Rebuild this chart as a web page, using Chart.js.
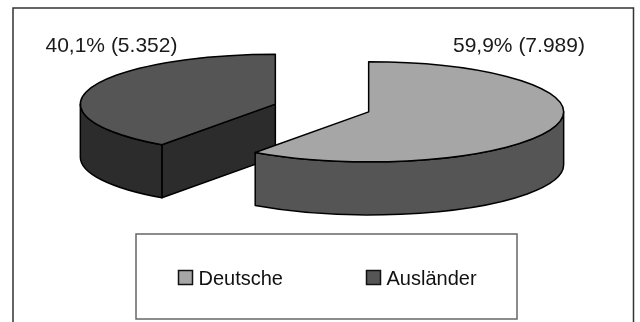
<!DOCTYPE html>
<html>
<head>
<meta charset="utf-8">
<title>Deutsche und Ausländer</title>
<script src="https://cdn.jsdelivr.net/npm/chart.js@4"></script>
<style>
  html, body { margin: 0; padding: 0; background: #fff; }
  #chart { display: block; }
</style>
</head>
<body>
<div style="width:640px;height:322px"><canvas id="chart" width="640" height="322"></canvas></div>
<script>
const categories = ['Deutsche', 'Ausländer'];
const persons = [7989, 5352];
const topColors = ['#a6a6a6', '#555555'];
const sideColors = ['#555555', '#2c2c2c'];

const TILT = 50 / 195;   // vertical squash of the pie
const DEPTH = 53;        // height of the extruded rim
const FONT = '"Liberation Sans", Arial, sans-serif';

const total = persons.reduce((a, b) => a + b, 0);
const valueText = (v) => (v / total * 100).toFixed(1).replace('.', ',') + '% (' + v.toLocaleString('de-DE') + ')';

// flat pie arcs are kept by Chart.js, this redraws them as a tilted 3d pie
const pie3d = {
    id: 'pie3d',
    beforeDraw(chart) {
        const ctx = chart.ctx;
        ctx.save();
        ctx.strokeStyle = '#333333';
        ctx.lineWidth = 1.5;
        ctx.beginPath();
        ctx.moveTo(13, 322);
        ctx.lineTo(13, 8);
        ctx.lineTo(633.5, 8);
        ctx.lineTo(633.5, 322);
        ctx.stroke();
        ctx.restore();
    },
    beforeDatasetDraw(chart, args) {
        const ctx = chart.ctx;
        const arcs = args.meta.data;
        ctx.save();
        ctx.lineWidth = 1.5;
        ctx.lineJoin = 'round';
        ctx.strokeStyle = '#000';
        // back slice first, the front one overlaps it
        for (let i = arcs.length - 1; i >= 0; i--) {
            drawSlice(ctx, arcs[i], topColors[i], sideColors[i]);
        }
        ctx.restore();
        return false;
    },
    afterDraw(chart) {
        const ctx = chart.ctx;
        ctx.save();
        ctx.fillStyle = '#1a1a1a';
        ctx.textBaseline = 'alphabetic';
        ctx.font = '21px ' + FONT;
        ctx.fillText(valueText(persons[0]), 453, 52);
        ctx.fillText(valueText(persons[1]), 45.5, 52);

        // legend box
        ctx.strokeStyle = '#666666';
        ctx.lineWidth = 1.5;
        ctx.strokeRect(136, 234, 381, 85);
        ctx.font = '20px ' + FONT;
        const swatchX = [178.5, 366.5];
        categories.forEach((name, i) => {
            ctx.fillStyle = topColors[i];
            ctx.strokeStyle = '#111';
            ctx.lineWidth = 1.5;
            ctx.fillRect(swatchX[i], 270.5, 14, 14);
            ctx.strokeRect(swatchX[i], 270.5, 14, 14);
            ctx.fillStyle = '#111';
            ctx.fillText(name, swatchX[i] + 20, 284.5);
        });
        ctx.restore();
    }
};

function drawSlice(ctx, arc, top, side) {
    const { x, y, startAngle, endAngle, outerRadius } = arc.getProps(['x', 'y', 'startAngle', 'endAngle', 'outerRadius'], true);
    const mid = (startAngle + endAngle) / 2;
    const off = arc.options.offset;
    const cx = x + Math.cos(mid) * off;
    const cy = y + Math.sin(mid) * off * TILT;
    const rx = outerRadius;
    const ry = outerRadius * TILT;

    // cut face, only the one turned towards the viewer
    if (Math.cos(startAngle) < -1e-6) {
        const ex = cx + Math.cos(startAngle) * rx;
        const ey = cy + Math.sin(startAngle) * ry;
        ctx.beginPath();
        ctx.moveTo(cx, cy);
        ctx.lineTo(ex, ey);
        ctx.lineTo(ex, ey + DEPTH);
        ctx.lineTo(cx, cy + DEPTH);
        ctx.closePath();
        ctx.fillStyle = side;
        ctx.fill();
        ctx.stroke();
    }

    // outer rim on the front half of the ellipse
    const from = Math.max(startAngle, 0);
    const to = Math.min(endAngle, Math.PI);
    if (to > from) {
        ctx.beginPath();
        ctx.ellipse(cx, cy, rx, ry, 0, from, to);
        ctx.lineTo(cx + Math.cos(to) * rx, cy + Math.sin(to) * ry + DEPTH);
        ctx.ellipse(cx, cy + DEPTH, rx, ry, 0, to, from, true);
        ctx.closePath();
        ctx.fillStyle = side;
        ctx.fill();
        ctx.stroke();
    }

    // top face
    ctx.beginPath();
    ctx.moveTo(cx, cy);
    ctx.ellipse(cx, cy, rx, ry, 0, startAngle, endAngle);
    ctx.closePath();
    ctx.fillStyle = top;
    ctx.fill();
    ctx.stroke();
}

new Chart(document.getElementById('chart'), {
    type: 'pie',
    data: {
        labels: categories,
        datasets: [{
            data: persons,
            backgroundColor: topColors,
            borderColor: '#000',
            borderWidth: 0,
            offset: 49,
            radius: 195
        }]
    },
    options: {
        responsive: false,
        animation: false,
        layout: { padding: { left: 4, right: 0, top: 0, bottom: 106 } },
        plugins: {
            legend: { display: false },
            tooltip: { enabled: false }
        }
    },
    plugins: [pie3d]
});
</script>
</body>
</html>
